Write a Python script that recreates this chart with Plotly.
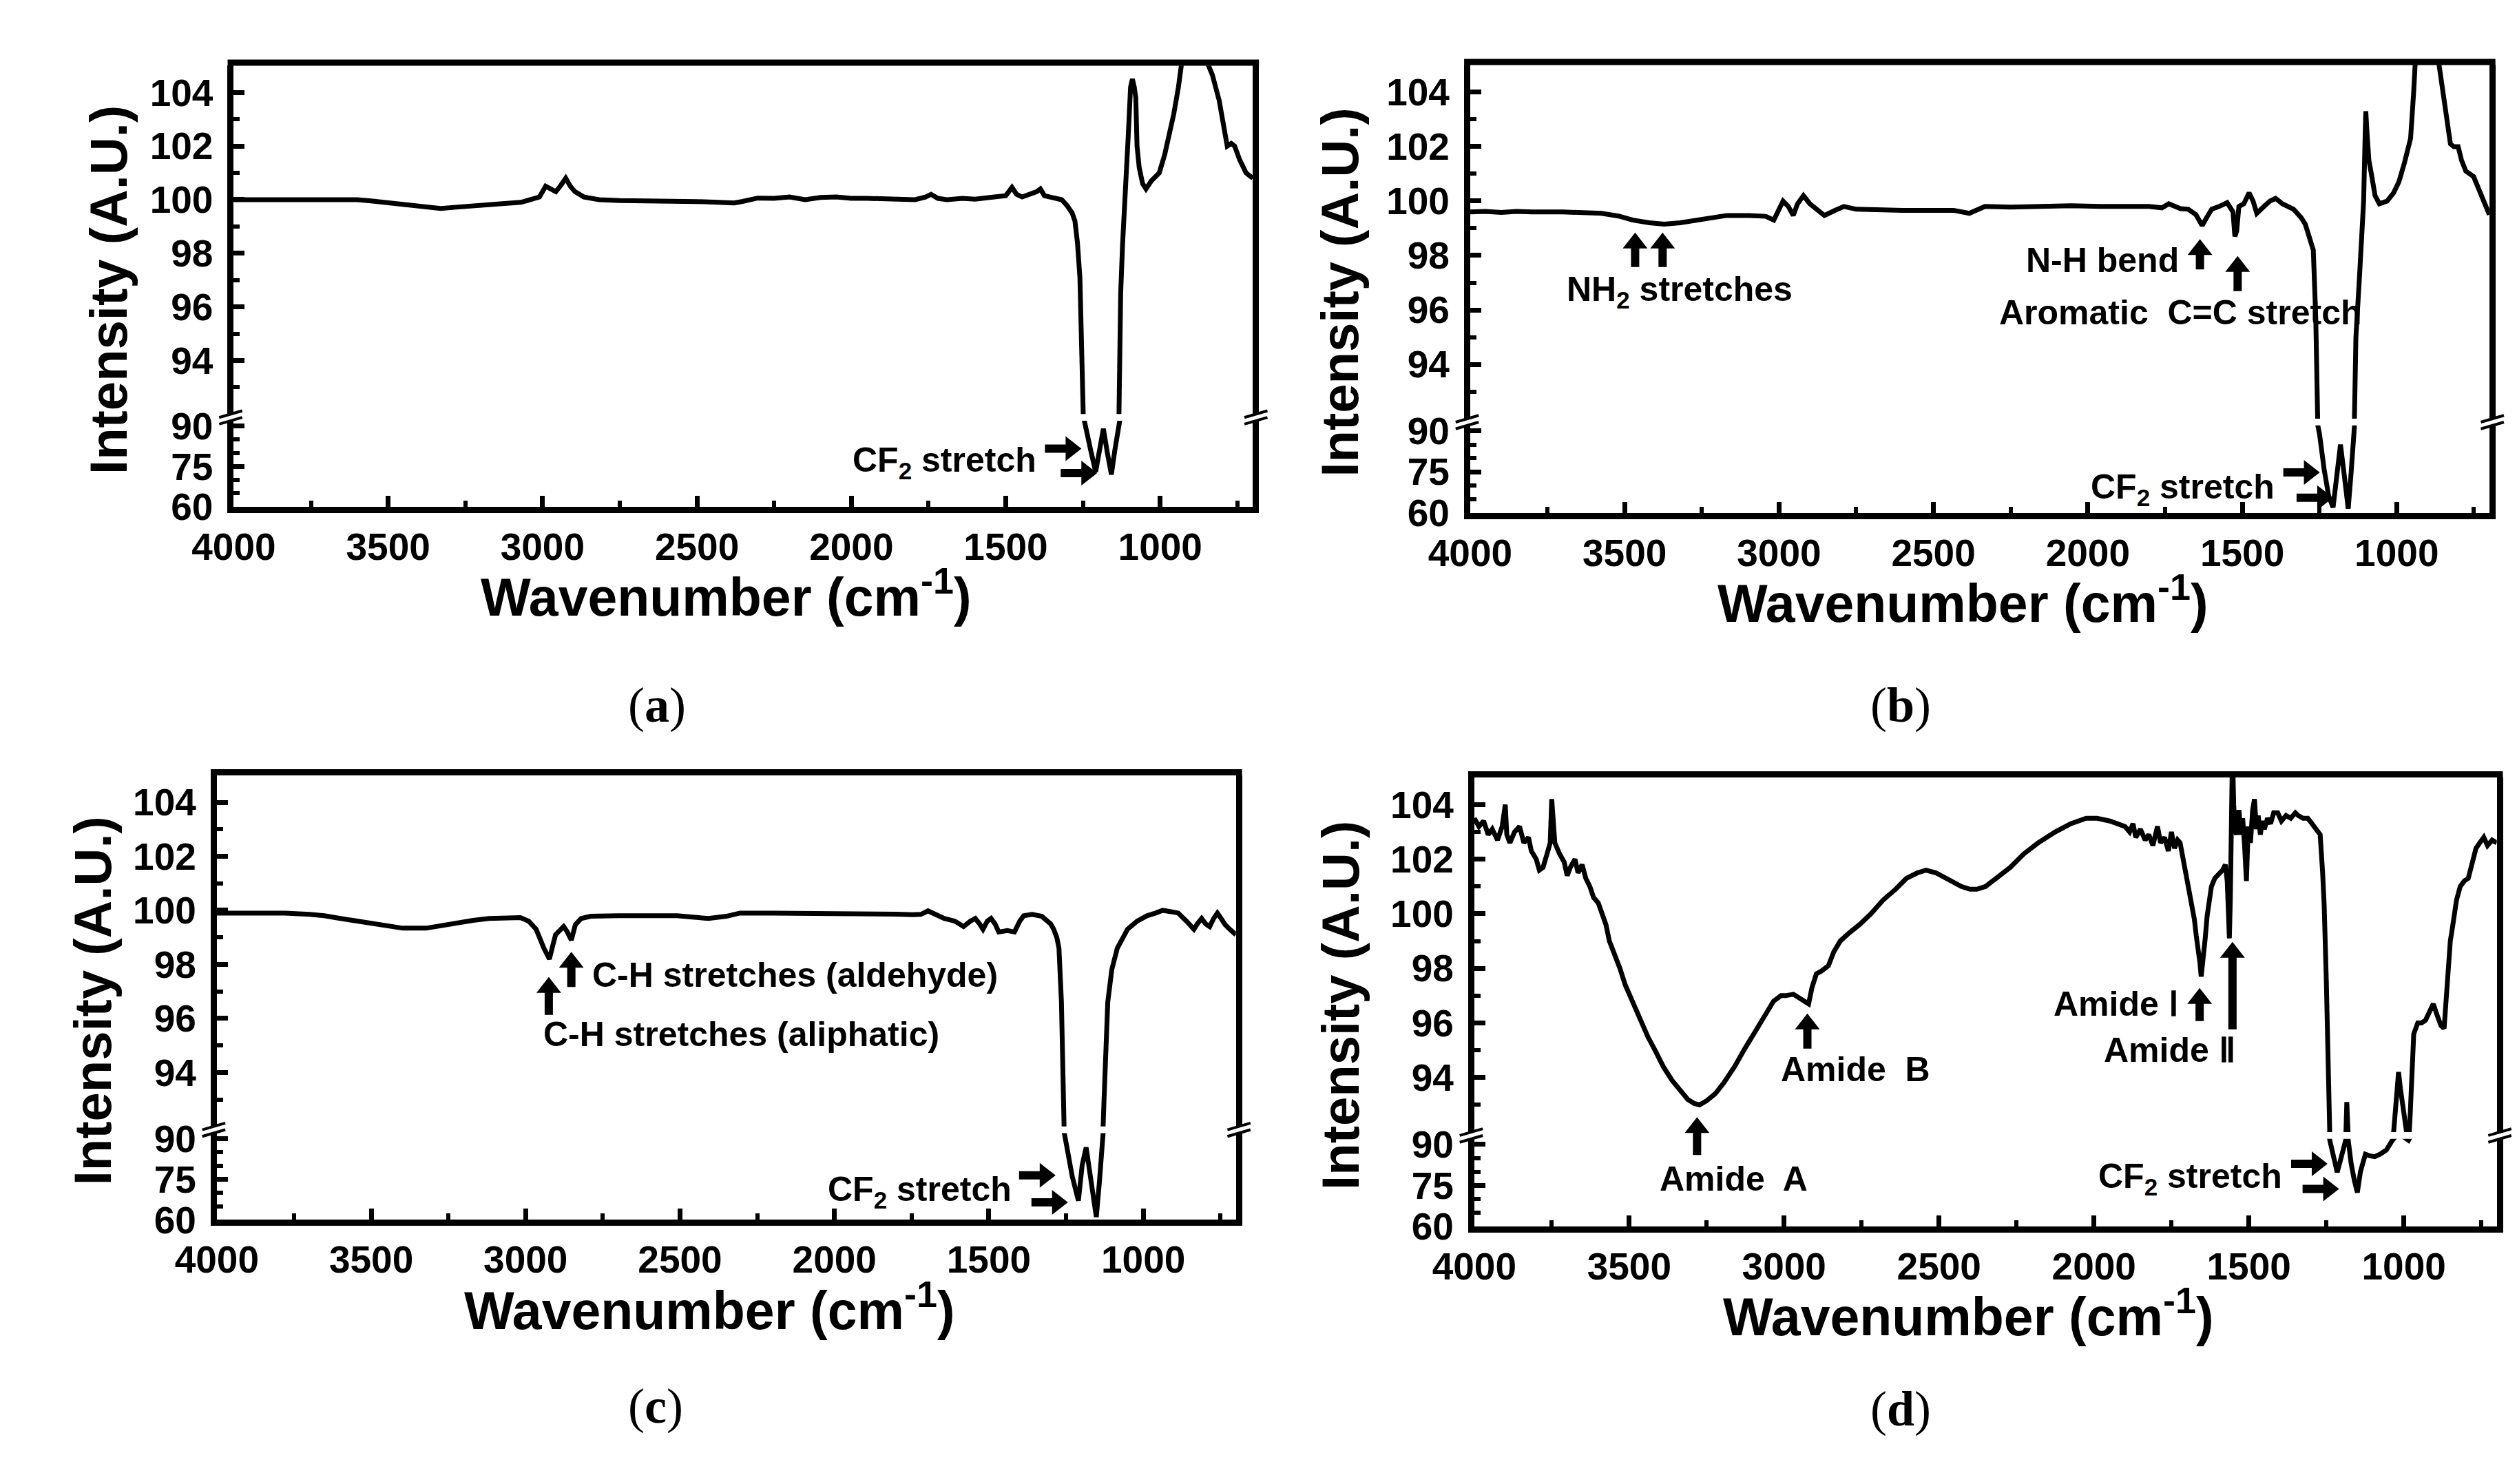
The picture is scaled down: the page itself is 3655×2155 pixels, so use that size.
import plotly.graph_objects as go

W, H = 3655, 2155

# ---------------- data ----------------
A_WN = [4000, 3900, 3800, 3700, 3600, 3550, 3480, 3420, 3378, 3330, 3280, 3225, 3170, 3123, 3070, 3033,
        3010, 2990, 2970, 2957, 2940, 2925, 2910, 2895, 2866, 2816, 2750, 2688, 2600, 2500, 2432, 2380,
        2355, 2330, 2304, 2250, 2200, 2150, 2100, 2049, 2000, 1950, 1900, 1850, 1794, 1760, 1742, 1720,
        1690, 1640, 1600, 1537, 1500, 1480, 1465, 1447, 1422, 1400, 1388, 1375, 1357, 1319, 1303, 1294,
        1285, 1276, 1268, 1260, 1250, 1245, 1242, 1225, 1209, 1197, 1184, 1171, 1158, 1147, 1137, 1133,
        1128, 1122, 1112, 1103, 1096, 1090, 1084, 1079, 1075, 1068, 1057, 1046, 1029, 1003, 985, 969,
        956, 941, 934, 920, 890, 860, 847, 831, 809, 794, 783, 770, 759, 743, 722, 711, 700]
A_VAL = [100.0, 100.0, 100.02, 99.98, 100.0, 99.95, 99.86, 99.78, 99.72, 99.67, 99.72, 99.78, 99.8, 99.86, 99.9, 100.0,
         100.1, 100.5, 100.4, 100.3, 100.55, 100.8, 100.5, 100.3, 100.1, 100.0, 99.97, 99.97, 99.95, 99.93, 99.9, 99.88,
         99.93, 100.0, 100.06, 100.05, 100.1, 100.0, 100.08, 100.1, 100.05, 100.05, 100.02, 100.0, 100.0, 100.1, 100.2, 100.05,
         100.0, 100.05, 100.02, 100.1, 100.15, 100.46, 100.2, 100.1, 100.2, 100.3, 100.4, 100.15, 100.1, 100.0, 99.8, 99.67,
         99.5, 99.2, 98.4, 97.1, 94.3, 92.0, 90.0, 81.0, 73.0, 82.0, 89.0, 80.0, 72.0, 81.0, 91.0, 94.0,
         96.5, 98.3, 100.2, 102.5, 104.2, 104.5, 104.2, 103.8, 102.0, 101.2, 100.6, 100.4, 100.7, 101.0, 101.7, 102.5,
         103.2, 104.2, 104.9, 106.0, 107.5, 106.0, 105.1, 104.65, 103.7, 102.7, 102.0, 102.1, 102.0, 101.5, 101.0, 100.9, 100.8]

B_WN = [4000, 3950, 3900, 3850, 3800, 3750, 3701, 3650, 3575, 3520, 3473, 3420, 3372, 3320, 3271, 3220,
        3169, 3100, 3043, 3017, 2995, 2987, 2970, 2954, 2940, 2921, 2900, 2880, 2853, 2820, 2790, 2750,
        2700, 2600, 2500, 2435, 2384, 2333, 2250, 2150, 2055, 1950, 1850, 1802, 1760, 1738, 1700, 1675,
        1650, 1630, 1615, 1599, 1575, 1549, 1530, 1524, 1518, 1511, 1495, 1478, 1465, 1453, 1430, 1410,
        1392, 1370, 1334, 1310, 1296, 1282, 1270, 1262, 1255, 1250, 1235, 1220, 1206, 1194, 1182, 1170,
        1157, 1148, 1140, 1136, 1132, 1120, 1107, 1102, 1100, 1096, 1090, 1082, 1070, 1056, 1031, 1010,
        993, 975, 955, 945, 938, 910, 880, 864, 844, 826, 815, 801, 790, 776, 751, 740, 725, 712, 700]
B_VAL = [99.6, 99.62, 99.58, 99.62, 99.6, 99.62, 99.6, 99.58, 99.55, 99.45, 99.3, 99.2, 99.15, 99.2, 99.3, 99.4,
         99.47, 99.47, 99.44, 99.3, 99.8, 100.0, 99.8, 99.47, 99.9, 100.2, 99.9, 99.7, 99.47, 99.65, 99.8, 99.7,
         99.68, 99.66, 99.66, 99.66, 99.55, 99.8, 99.78, 99.82, 99.83, 99.8, 99.8, 99.8, 99.75, 99.9, 99.72, 99.7,
         99.5, 99.1, 99.4, 99.7, 99.8, 99.94, 99.6, 98.7, 98.9, 99.8, 99.9, 100.3, 100.0, 99.55, 99.8, 100.0,
         100.1, 99.9, 99.7, 99.4, 99.15, 98.6, 98.2, 95.7, 92.2, 89.0, 76.0, 66.0, 62.0, 75.0, 85.0, 74.0,
         61.5, 74.0, 90.0, 93.0, 95.0, 97.3, 100.0, 102.5, 103.3, 102.5, 101.5, 101.0, 100.2, 99.9, 100.0, 100.3,
         100.7, 101.4, 102.3, 104.0, 105.5, 107.0, 106.5, 105.1, 103.5, 102.1, 102.0, 102.0, 101.5, 101.1, 100.9, 100.6, 100.1, 99.8, 99.5]

C_WN = [4000, 3950, 3900, 3850, 3779, 3700, 3652, 3600, 3525, 3460, 3398, 3322, 3270, 3220, 3170, 3118,
        3060, 3017, 2990, 2966, 2941, 2930, 2923, 2912, 2903, 2877, 2865, 2852, 2845, 2839, 2820, 2789,
        2700, 2600, 2509, 2460, 2408, 2350, 2306, 2200, 2100, 2002, 1900, 1800, 1748, 1720, 1697, 1670,
        1645, 1610, 1582, 1560, 1544, 1530, 1519, 1505, 1493, 1480, 1468, 1440, 1417, 1400, 1387, 1360,
        1329, 1300, 1290, 1280, 1273, 1265, 1256, 1250, 1230, 1210, 1198, 1185, 1170, 1152, 1142, 1134,
        1130, 1127, 1115, 1102, 1084, 1065, 1051, 1020, 988, 960, 937, 910, 887, 860, 836, 825,
        811, 798, 785, 772, 760, 748, 735, 720, 700]
C_VAL = [99.9, 99.9, 99.9, 99.88, 99.9, 99.85, 99.8, 99.7, 99.56, 99.42, 99.34, 99.34, 99.45, 99.56, 99.63, 99.7,
         99.73, 99.73, 99.6, 99.3, 98.6, 98.3, 98.2, 98.7, 99.1, 99.4, 99.2, 98.9, 99.2, 99.47, 99.7, 99.78,
         99.8, 99.8, 99.8, 99.75, 99.7, 99.78, 99.9, 99.9, 99.9, 99.9, 99.88, 99.86, 99.84, 99.85, 99.98, 99.85,
         99.7, 99.6, 99.4, 99.6, 99.7, 99.5, 99.3, 99.6, 99.7, 99.5, 99.2, 99.25, 99.2, 99.6, 99.8, 99.85,
         99.78, 99.5, 99.3, 99.0, 98.6, 96.6, 92.2, 88.0, 76.0, 67.0, 80.0, 86.7, 74.0, 61.0, 74.0, 90.0,
         92.0, 93.0, 96.6, 97.8, 98.6, 99.0, 99.3, 99.6, 99.8, 99.9, 100.0, 99.95, 99.9, 99.6, 99.3, 99.5,
         99.7, 99.5, 99.4, 99.7, 99.9, 99.7, 99.47, 99.3, 99.1]

D_WN = [4000, 3985, 3970, 3955, 3942, 3925, 3910, 3900, 3895, 3885, 3870, 3854, 3840, 3825, 3816, 3800,
        3790, 3778, 3765, 3755, 3750, 3745, 3740, 3725, 3710, 3700, 3690, 3675, 3665, 3652, 3640, 3627,
        3615, 3600, 3589, 3575, 3564, 3550, 3530, 3513, 3490, 3463, 3440, 3412, 3390, 3362, 3335, 3311,
        3290, 3273, 3250, 3223, 3195, 3160, 3130, 3097, 3065, 3034, 3010, 2996, 2970, 2946, 2932, 2921,
        2910, 2896, 2880, 2857, 2840, 2819, 2790, 2757, 2720, 2681, 2640, 2605, 2570, 2542, 2510, 2492,
        2460, 2428, 2400, 2378, 2350, 2315, 2270, 2226, 2180, 2125, 2075, 2025, 1990, 1949, 1920, 1900,
        1885, 1874, 1865, 1850, 1835, 1823, 1810, 1795, 1785, 1772, 1760, 1750, 1740, 1730, 1722, 1712,
        1705, 1697, 1685, 1676, 1670, 1664, 1658, 1654, 1650, 1645, 1641, 1635, 1628, 1621, 1610, 1596,
        1585, 1576, 1570, 1566, 1563, 1560, 1556, 1553, 1549, 1545, 1540, 1532, 1526, 1520, 1514, 1508,
        1502, 1495, 1488, 1482, 1476, 1470, 1463, 1457, 1450, 1440, 1430, 1420, 1407, 1395, 1380, 1365,
        1350, 1341, 1325, 1310, 1303, 1290, 1280, 1270, 1262, 1257, 1250, 1245, 1240, 1237, 1226, 1215,
        1205, 1195, 1188, 1184, 1180, 1176, 1170, 1160, 1150, 1140, 1124, 1110, 1094, 1075, 1056, 1038,
        1030, 1022, 1017, 1011, 1005, 998, 992, 985, 980, 975, 968, 955, 943, 930, 918, 905,
        893, 880, 870, 860, 850, 843, 830, 818, 805, 792, 780, 767, 755, 742, 730, 715, 700]
D_VAL = [103.5, 103.2, 103.4, 102.9, 103.1, 102.7, 103.2, 104.0, 102.9, 102.6, 103.0, 103.2, 102.6, 102.8, 102.3, 102.0,
         101.6, 101.7, 102.2, 102.6, 104.2, 102.9, 102.6, 102.2, 101.9, 101.4, 101.7, 102.0, 101.5, 101.8, 101.3, 101.0,
         100.6, 100.4, 100.0, 99.6, 99.0, 98.6, 98.0, 97.4, 96.8, 96.1, 95.5, 94.9, 94.4, 93.9, 93.5, 93.2,
         93.05, 93.0, 93.15, 93.4, 93.8, 94.4, 95.0, 95.6, 96.2, 96.8, 97.0, 97.0, 97.05, 96.9, 96.8, 96.7,
         97.3, 97.8, 97.9, 98.1, 98.6, 99.0, 99.3, 99.6, 100.0, 100.5, 100.9, 101.3, 101.5, 101.6, 101.5, 101.4,
         101.2, 101.0, 100.9, 100.9, 101.0, 101.3, 101.7, 102.2, 102.6, 103.0, 103.3, 103.5, 103.5, 103.4, 103.3, 103.2,
         103.0, 103.3, 102.8, 103.1, 102.7, 102.9, 102.5, 103.2, 102.6, 102.8, 102.3, 103.0, 102.4, 102.7, 102.6, 102.0,
         101.7, 101.2, 100.5, 99.8, 99.2, 98.8, 98.2, 97.7, 98.3, 98.7, 99.1, 99.9, 100.6, 101.0, 101.3, 101.5,
         101.6, 101.8, 101.2, 100.0, 99.1, 100.5, 103.0, 106.0, 104.0, 103.1, 102.9, 103.8, 102.9, 103.5, 102.5, 101.2,
         103.2, 102.6, 103.8, 104.2, 103.1, 103.6, 102.9, 103.4, 103.1, 103.5, 103.3, 103.7, 103.7, 103.4, 103.6, 103.5,
         103.7, 103.6, 103.5, 103.5, 103.4, 103.2, 103.1, 102.9, 101.5, 100.3, 97.5, 95.3, 92.2, 90.5, 85.0, 79.8,
         84.0, 88.8, 91.0, 93.1, 92.0, 87.0, 83.0, 77.0, 72.4, 80.0, 86.4, 85.8, 85.5, 86.5, 88.0, 91.3,
         92.4, 93.5, 94.2, 93.6, 93.1, 92.5, 92.2, 91.5, 92.5, 94.0, 95.6, 96.0, 96.0, 96.1, 96.4, 96.7,
         96.3, 95.9, 95.8, 97.5, 99.0, 99.5, 100.5, 101.0, 101.2, 101.3, 101.9, 102.4, 102.6, 102.8, 102.5, 102.7, 102.6]

X_TICKS = [4000, 3500, 3000, 2500, 2000, 1500, 1000]
X_MINOR = [3750, 3250, 2750, 2250, 1750, 1250, 750]
UP_TICKS = [94, 96, 98, 100, 102, 104]
UP_MINOR = [93, 95, 97, 99, 101, 103]
LO_TICKS = [60, 75, 90]
LO_MINOR = [65, 70, 80, 85]
X_RANGE = [4000, 700]
UP_RANGE = [92, 105]
LO_RANGE = [60, 92]

X_TITLE = "Wavenumber (cm<sup>-1</sup>)"
Y_TITLE = "Intensity (A.U.)"
PANEL_LABELS = ["a", "b", "c", "d"]

SPECTRA = [(A_WN, A_VAL), (B_WN, B_VAL), (C_WN, C_VAL), (D_WN, D_VAL)]

# ---------------- layout (pixel boxes of each panel) ----------------
BOXES = [
    dict(L=275, R=1780, T=66, B=723, ytx=90, xty=852, lab=(900, 1019)),
    dict(L=2101, R=3606, T=65, B=732, ytx=1908, xty=861, lab=(2737, 1019)),
    dict(L=250, R=1755, T=1123, B=1785, ytx=67, xty=1914, lab=(898, 2063)),
    dict(L=2107, R=3617, T=1126, B=1795, ytx=1910, xty=1924, lab=(2737, 2067)),
]

# arrows: (wn, value at tip, segment, direction, length in px)
# segment "upfree" = tip on the upper axis scale, but the arrow may run past the break
ARROWS = [
    [(1255, 81.6, "lo", "right", 53), (1204, 72.5, "lo", "right", 53)],
    [(3466, 98.84, "up", "up", 50), (3377, 98.84, "up", "up", 50), (1637, 98.6, "up", "up", 44),
     (1515, 97.98, "up", "up", 51), (1249, 74.8, "lo", "right", 53), (1206, 65.5, "lo", "right", 53)],
    [(2925, 97.53, "up", "up", 55), (2852, 98.46, "up", "up", 51),
     (1284, 76.4, "lo", "right", 53), (1244, 66.4, "lo", "right", 53)],
    [(3281, 92.55, "upfree", "up", 55), (2925, 96.35, "up", "up", 51), (1659, 97.28, "up", "up", 48),
     (1553, 98.97, "up", "up", 127), (1246, 82.9, "lo", "right", 53), (1209, 73.7, "lo", "right", 53)],
]
# texts: (text, wn, value, segment, xanchor)
TEXTS = [
    [("CF<sub>2</sub> stretch", 1396, 76.5, "lo", "right")],
    [("NH<sub>2</sub> stretches", 3321, 96.66, "up", "center"), ("N-H bend", 1700, 97.83, "up", "right"),
     ("Aromatic\u00a0 C=C stretch", 1700, 95.9, "up", "center"), ("CF<sub>2</sub> stretch", 1391, 68.6, "lo", "right")],
    [("C-H stretches (aldehyde)", 2788, 97.6, "up", "left"), ("C-H stretches (aliphatic)", 2946, 95.4, "up", "left"),
     ("CF<sub>2</sub> stretch", 1421, 70.3, "lo", "right")],
    [("Amide\u00a0 A", 3162, 77.4, "lo", "center"), ("Amide\u00a0 B", 2769, 94.3, "up", "center"),
     ("Amide \u2160", 1722, 96.7, "up", "right"), ("Amide \u2161", 1755, 95.0, "up", "center"),
     ("CF<sub>2</sub> stretch", 1389, 77.4, "lo", "right")],
]

FONT = "Liberation Sans"
HEAD_LEN, HEAD_HALF, SHAFT_HALF = 23, 18, 6


def px(x):
    return x / W


def py(y):
    return 1 - y / H


def arrow_path(direction, length):
    hl, hw, st = HEAD_LEN, HEAD_HALF, SHAFT_HALF
    if direction == "right":
        pts = [(-length, -st), (-hl, -st), (-hl, -hw), (0, 0), (-hl, hw), (-hl, st), (-length, st)]
    else:  # up: tail below the tip (pixel y grows upward)
        pts = [(-st, -length), (-st, -hl), (-hw, -hl), (0, 0), (hw, -hl), (st, -hl), (st, -length)]
    return "M " + " L ".join(f"{a},{b}" for a, b in pts) + " Z"


fig = go.Figure()
layout = {}
annotations = []
shapes = []

axis_common = dict(
    showline=True, linecolor="black", linewidth=9,
    ticks="inside", ticklen=16, tickwidth=7, tickcolor="black",
    showgrid=False, zeroline=False,
    tickfont=dict(family=FONT, size=55, color="black", weight="bold"),
)
minor_common = dict(ticks="inside", ticklen=9, tickwidth=6, tickcolor="black", showgrid=False)

for i, (box, (wn, val)) in enumerate(zip(BOXES, SPECTRA)):
    n = i + 1
    xname = "x" if n == 1 else f"x{n}"
    lo_n, up_n = 2 * i + 1, 2 * i + 2
    ylo = "y" if lo_n == 1 else f"y{lo_n}"
    yup = f"y{up_n}"
    L, R, T, B = box["L"], box["R"], box["T"], box["B"]
    h = B - T
    lo_top = B - 0.195 * h
    up_bot = B - 0.21 * h
    up_dom = [py(up_bot), py(T)]

    for yy in (ylo, yup):
        fig.add_trace(go.Scatter(x=wn, y=val, xaxis=xname, yaxis=yy, mode="lines",
                                 line=dict(color="black", width=7), showlegend=False, hoverinfo="skip"))

    layout["xaxis" if n == 1 else f"xaxis{n}"] = dict(
        axis_common, domain=[px(L), px(R)], range=X_RANGE, anchor=ylo,
        tickvals=X_TICKS, ticktext=[str(v) for v in X_TICKS], mirror=False,
        ticklabelstandoff=2, minor=dict(minor_common, tickvals=X_MINOR),
    )
    layout["yaxis" if lo_n == 1 else f"yaxis{lo_n}"] = dict(
        axis_common, domain=[py(B), py(lo_top)], range=LO_RANGE, anchor=xname,
        tickvals=LO_TICKS, ticktext=[str(v) for v in LO_TICKS], mirror=True,
        ticklabelstandoff=10, minor=dict(minor_common, tickvals=LO_MINOR),
    )
    layout[f"yaxis{up_n}"] = dict(
        axis_common, domain=up_dom, range=UP_RANGE, anchor=xname,
        tickvals=UP_TICKS, ticktext=[str(v) for v in UP_TICKS], mirror=True,
        ticklabelstandoff=10, minor=dict(minor_common, tickvals=UP_MINOR),
    )

    # top frame line
    shapes.append(dict(type="line", xref="paper", yref="paper", x0=px(L - 9), x1=px(R + 9),
                       y0=py(T - 4.5), y1=py(T - 4.5), line=dict(color="black", width=9)))
    # break marks
    for X in (L - 4.5, R + 4.5):
        for yb in (lo_top, up_bot):
            shapes.append(dict(type="line", xref="paper", yref="paper",
                               x0=px(X - 17), y0=py(yb + 5), x1=px(X + 17), y1=py(yb - 5),
                               line=dict(color="black", width=4)))

    # axis titles
    annotations.append(dict(xref="paper", yref="paper", x=px(box["ytx"]), y=py((T + B) / 2 + 5),
                            text=Y_TITLE, textangle=-90, showarrow=False, xanchor="center", yanchor="middle",
                            font=dict(family=FONT, size=76, color="black", weight="bold")))
    annotations.append(dict(xref="paper", yref="paper", x=px((L + R) / 2 - 25), y=py(box["xty"]),
                            text=X_TITLE, showarrow=False, xanchor="center", yanchor="middle",
                            font=dict(family=FONT, size=77, color="black", weight="bold")))
    # panel label
    annotations.append(dict(xref="paper", yref="paper", x=px(box["lab"][0]), y=py(box["lab"][1]),
                            text=f"(<b>{PANEL_LABELS[i]}</b>)", showarrow=False, xanchor="center", yanchor="middle",
                            font=dict(family="Liberation Serif", size=72, color="black")))

    # arrows drawn as filled paths (pixel-sized, anchored at data coordinates)
    for (aw, av, seg, direction, length) in ARROWS[i]:
        if seg == "upfree":
            # tip on the upper-axis scale, expressed as a paper fraction so the arrow is not clipped at the break
            frac = (av - UP_RANGE[0]) / (UP_RANGE[1] - UP_RANGE[0])
            yref, yanc = "paper", up_dom[0] + frac * (up_dom[1] - up_dom[0])
        else:
            yref, yanc = (ylo if seg == "lo" else yup), av
        shapes.append(dict(type="path", xref=xname, yref=yref,
                           xsizemode="pixel", ysizemode="pixel", xanchor=aw, yanchor=yanc,
                           path=arrow_path(direction, length),
                           fillcolor="black", line=dict(width=0), layer="above"))
    for (txt, tw, tv, seg, anc) in TEXTS[i]:
        annotations.append(dict(xref=xname, yref=(ylo if seg == "lo" else yup), x=tw, y=tv,
                                text=txt, showarrow=False, xanchor=anc, yanchor="middle",
                                font=dict(family=FONT, size=50, color="black", weight="bold")))

fig.update_layout(**layout)
fig.update_layout(
    width=W, height=H, autosize=False,
    margin=dict(l=0, r=0, t=0, b=0),
    paper_bgcolor="white", plot_bgcolor="white",
    showlegend=False,
    annotations=annotations, shapes=shapes,
)

fig.write_html("out.html")
